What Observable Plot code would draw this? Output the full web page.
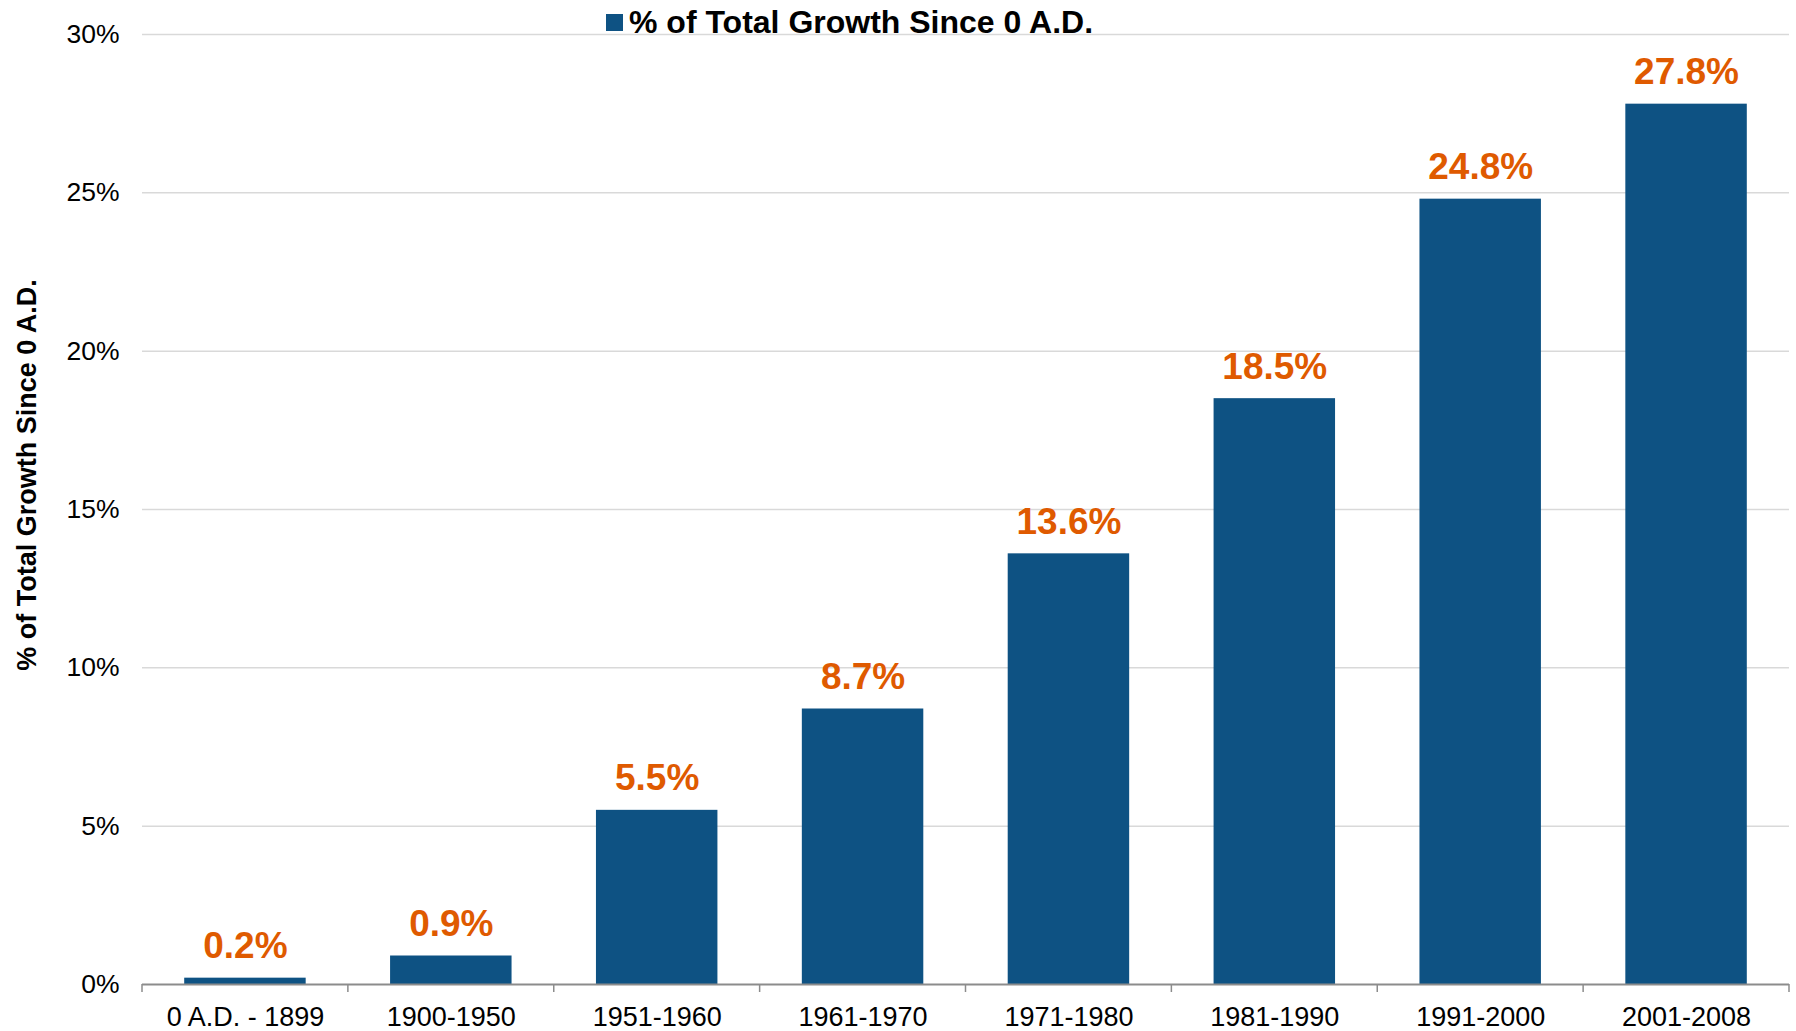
<!DOCTYPE html>
<html><head><meta charset="utf-8">
<script src="https://cdn.jsdelivr.net/npm/d3@7"></script>
<script src="https://cdn.jsdelivr.net/npm/@observablehq/plot@0.6"></script>
<style>
body{margin:0;background:#fff;font-family:"Liberation Sans",Arial,sans-serif;}
#wrap{position:relative;width:1796px;height:1031px;overflow:hidden;}
#legend{position:absolute;left:606px;top:6px;font-weight:bold;font-size:32px;line-height:32px;color:#000;white-space:nowrap;z-index:2;}
#legend .sw{position:absolute;left:0;top:8px;width:17px;height:17px;}
#legend .tx{position:absolute;left:23px;top:0;}
#ylabel{position:absolute;left:27px;top:475px;transform:translate(-50%,-50%) rotate(-90deg);font-weight:bold;font-size:27px;white-space:nowrap;color:#000;}
#chart{position:absolute;left:0;top:0;}
</style></head><body>
<div id="wrap"><div id="chart"></div><div id="legend"><span class="sw"></span><span class="tx"></span></div><div id="ylabel"></div></div>
<script>
const categories = ["0 A.D. - 1899","1900-1950","1951-1960","1961-1970","1971-1980","1981-1990","1991-2000","2001-2008"];
const values = [0.2, 0.9, 5.5, 8.7, 13.6, 18.5, 24.8, 27.8];
const yTicks = [0, 5, 10, 15, 20, 25, 30];
const seriesName = "% of Total Growth Since 0 A.D.";
const yLabel = "% of Total Growth Since 0 A.D.";
const barColor = "#0E5283";
const labelColor = "#DF5A00";

const data = categories.map((c, i) => ({category: c, value: values[i]}));

document.querySelector("#legend .sw").style.background = barColor;
document.querySelector("#legend .tx").textContent = seriesName;
document.getElementById("ylabel").textContent = yLabel;

function boundaryTicks(index, scales, vals, dims) {
  const x = scales.x;
  const step = x(categories[1]) - x(categories[0]);
  const y0 = scales.y(0);
  const g = d3.create("svg:g").attr("stroke", "#8c8c8c").attr("stroke-width", 1.5);
  for (let i = 0; i <= categories.length; i++) {
    const px = dims.marginLeft + i * step;
    g.append("line").attr("x1", px).attr("x2", px).attr("y1", y0).attr("y2", y0 + 8);
  }
  return g.node();
}

const chart = Plot.plot({
  width: 1796,
  height: 1031,
  marginLeft: 142,
  marginRight: 7,
  marginTop: 34,
  marginBottom: 47,
  style: {fontFamily: "'Liberation Sans', Arial, sans-serif", color: "#000", background: "#fff"},
  x: {domain: categories, paddingInner: 0.41, paddingOuter: 0.205, round: false, label: null},
  y: {domain: [0, 30], label: null},
  marks: [
    Plot.gridY(yTicks.filter(d => d > 0), {stroke: "#d9d9d9", strokeOpacity: 1, strokeWidth: 1.5}),
    Plot.barY(data, {x: "category", y: "value", fill: barColor}),
    Plot.ruleY([0], {stroke: "#8c8c8c", strokeWidth: 2}),
    boundaryTicks,
    Plot.text(data, {x: "category", y: "value", text: d => d.value.toFixed(1) + "%", lineAnchor: "bottom", dy: -20, fill: labelColor, fontSize: 37, fontWeight: "bold"}),
    Plot.axisY({ticks: yTicks, tickFormat: d => d + "%", tickSize: 0, tickPadding: 23, fontSize: 26.5, label: null}),
    Plot.axisX({tickSize: 0, tickPadding: 22, fontSize: 27, label: null})
  ]
});
document.getElementById("chart").appendChild(chart);
</script>
</body></html>
